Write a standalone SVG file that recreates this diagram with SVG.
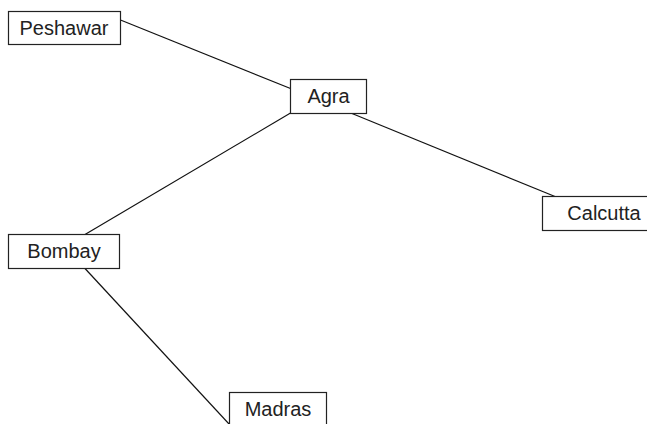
<svg xmlns="http://www.w3.org/2000/svg" width="647" height="424" viewBox="0 0 647 424">
<style>
.box{fill:#fff;stroke:#222;stroke-width:1.2}
.lbl{font-family:"Liberation Sans",Arial,sans-serif;font-size:20px;fill:#222;text-anchor:middle}
.edge{stroke:#111;stroke-width:1.2;fill:none}
</style>
<rect width="647" height="424" fill="#fff"/>
<g id="connectors">
<line class="edge" x1="120.5" y1="20" x2="290.5" y2="88.5"/>
<line class="edge" x1="352" y1="113.5" x2="555" y2="196.5"/>
<line class="edge" x1="290.5" y1="113" x2="85" y2="234.5"/>
<line class="edge" x1="85" y1="268.5" x2="229" y2="424"/>
</g>
<g id="peshawar">
<rect class="box" x="8.5" y="11.5" width="112" height="33"/>
<text class="lbl" x="64" y="35">Peshawar</text>
</g>
<g id="agra">
<rect class="box" x="290.5" y="79.5" width="76" height="34"/>
<text class="lbl" x="328.5" y="103">Agra</text>
</g>
<g id="calcutta">
<rect class="box" x="542.5" y="196.5" width="123" height="34"/>
<text class="lbl" x="604" y="220">Calcutta</text>
</g>
<g id="bombay">
<rect class="box" x="8.5" y="234.5" width="111" height="34"/>
<text class="lbl" x="64" y="258">Bombay</text>
</g>
<g id="madras">
<rect class="box" x="229.5" y="392.5" width="97" height="34"/>
<text class="lbl" x="278" y="416">Madras</text>
</g>
</svg>
